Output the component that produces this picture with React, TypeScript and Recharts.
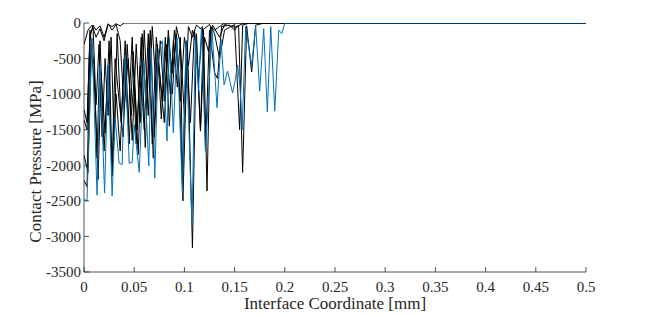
import { LineChart, Line, XAxis, YAxis } from 'recharts';

document.body.style.margin = '0';

type Pt = [number, number];

const xTicks = [0, 0.05, 0.1, 0.15, 0.2, 0.25, 0.3, 0.35, 0.4, 0.45, 0.5];
const yTicks = [-3500, -3000, -2500, -2000, -1500, -1000, -500, 0];

// contact pressure traces (x in mm, p in MPa)
const blueTrace: Pt[] = [
  [0, -2480], [0.003, -2500], [0.008, -210], [0.013, -2420], [0.016, -590], [0.0205, -2390],
  [0.024, -590], [0.028, -2430], [0.031, -1335], [0.035, -1970], [0.038, -1990], [0.041, -450],
  [0.045, -1970], [0.048, -1960], [0.05, -1430], [0.055, -2100], [0.0595, -530], [0.0645, -2010],
  [0.067, -350], [0.0705, -2180], [0.074, -390], [0.078, -250], [0.0827, -1660], [0.085, -210],
  [0.089, -1545], [0.0926, -210], [0.098, -2400], [0.1016, -250], [0.1076, -2840], [0.111, -170],
  [0.114, -950], [0.117, -60], [0.121, -1800], [0.1275, -100], [0.1325, -1190], [0.1365, -230],
  [0.1395, -870], [0.143, -675], [0.148, -985], [0.15, -850], [0.153, -590], [0.1555, -900],
  [0.1575, -1500], [0.161, -50], [0.167, -600], [0.171, -40], [0.175, -955], [0.179, -80],
  [0.1826, -1250], [0.186, -50], [0.19, -1240], [0.194, -100], [0.197, -150], [0.2, 0], [0.5, 0],
];

const blackA: Pt[] = [
  [0, -1220], [0.003, -1400], [0.006, -150], [0.009, -60], [0.012, -1150], [0.015, -300],
  [0.018, -1600], [0.021, -500], [0.024, -1300], [0.027, -200], [0.03, -1650], [0.033, -150],
  [0.037, -1400], [0.041, -250], [0.045, -1700], [0.049, -400], [0.053, -1500], [0.057, -200],
  [0.061, -1750], [0.065, -350], [0.069, -1900], [0.073, -300], [0.077, -1350], [0.081, -200],
  [0.085, -1450], [0.089, -250], [0.093, -900], [0.096, -200], [0.0985, -2500], [0.103, -300],
  [0.108, -3160], [0.112, -150], [0.116, -1500], [0.119, -100], [0.1225, -2360], [0.126, -50],
  [0.13, -100], [0.135, -50], [0.14, 0], [0.5, 0],
];

const blackB: Pt[] = [
  [0, -1360], [0.003, -1500], [0.006, -100], [0.01, -600], [0.013, -1900], [0.016, -250],
  [0.02, -1800], [0.024, -600], [0.028, -2000], [0.031, -500], [0.035, -1100], [0.039, -1600],
  [0.043, -300], [0.047, -1300], [0.05, -800], [0.054, -1850], [0.058, -150], [0.062, -1200],
  [0.066, -100], [0.07, -1600], [0.074, -500], [0.078, -1100], [0.082, -300], [0.086, -1000],
  [0.09, -100], [0.095, -900], [0.098, -2300], [0.102, -250], [0.106, -1400], [0.11, -100],
  [0.114, -800], [0.118, -50], [0.121, -1800], [0.125, -100], [0.13, -700], [0.133, -780],
  [0.137, -50], [0.145, -30], [0.15, -100], [0.154, -30], [0.158, -2100], [0.162, -40],
  [0.167, -690], [0.171, -30], [0.18, 0], [0.5, 0],
];

const blackC: Pt[] = [
  [0, -1855], [0.004, -2100], [0.007, -300], [0.011, -1000], [0.014, -2200], [0.017, -700],
  [0.021, -1550], [0.025, -250], [0.028, -2150], [0.032, -1000], [0.036, -1800], [0.04, -500],
  [0.044, -1400], [0.048, -200], [0.052, -1700], [0.056, -600], [0.06, -1500], [0.064, -150],
  [0.068, -1700], [0.072, -200], [0.076, -800], [0.08, -1400], [0.084, -200], [0.088, -700],
  [0.092, -150], [0.096, -1100], [0.1, -200], [0.104, -600], [0.108, -100], [0.112, -300],
  [0.116, -1520], [0.12, -200], [0.124, -400], [0.128, -30], [0.135, -200], [0.14, -20],
  [0.15, -60], [0.16, 0], [0.5, 0],
];

const blackD: Pt[] = [
  [0, -2210], [0.003, -2300], [0.006, -200], [0.009, -30], [0.012, -100], [0.016, -40],
  [0.02, -200], [0.024, -10], [0.028, -100], [0.032, -20], [0.036, -250], [0.04, -1200],
  [0.044, -500], [0.048, -1650], [0.052, -300], [0.056, -1400], [0.06, -100], [0.064, -1300],
  [0.068, -50], [0.072, -1000], [0.076, -250], [0.08, -1100], [0.084, -100], [0.088, -1000],
  [0.092, -50], [0.096, -300], [0.1, -1300], [0.104, -50], [0.108, -200], [0.112, -30],
  [0.118, -100], [0.125, -20], [0.13, -150], [0.135, -500], [0.14, -100], [0.145, -60],
  [0.15, -20], [0.155, -1500], [0.158, -30], [0.165, 0], [0.5, 0],
];

const blackE: Pt[] = [
  [0, -300], [0.004, -100], [0.008, -30], [0.012, -200], [0.016, -80], [0.02, -250],
  [0.024, -20], [0.028, -50], [0.032, -10], [0.036, -40], [0.04, 0], [0.5, 0],
];

const blackTraces = [blackA, blackB, blackC, blackD, blackE];

const toRows = (pts: Pt[]) => pts.map(([x, y]) => ({ x, y }));

const font = "'Liberation Serif', 'Times New Roman', 'DejaVu Serif', serif";
const axisColor = '#262626';
const blue = '#0072BD';

const XTick = (props: any) => {
  const { x, y, payload } = props;
  return (
    <g>
      <line x1={x} x2={x} y1={y} y2={y - 5} stroke={axisColor} strokeWidth={0.8} />
      <text x={x} y={y + 20} textAnchor="middle" style={{ fontFamily: font, fontSize: 15 }} fill={axisColor}>
        {String(payload.value)}
      </text>
    </g>
  );
};

const YTick = (props: any) => {
  const { x, y, payload } = props;
  return (
    <g>
      <line x1={x} x2={x + 5} y1={y} y2={y} stroke={axisColor} strokeWidth={0.8} />
      <text x={x - 3} y={y} dy="0.35em" textAnchor="end" style={{ fontFamily: font, fontSize: 15 }} fill={axisColor}>
        {String(payload.value)}
      </text>
    </g>
  );
};

const YLabel = (props: any) => {
  const vb = props.viewBox;
  const cx = vb.x + 35;
  const cy = vb.y + vb.height / 2 + 14;
  return (
    <text
      x={cx}
      y={cy}
      dy="0.35em"
      textAnchor="middle"
      transform={`rotate(-90, ${cx}, ${cy})`}
      style={{ fontFamily: font, fontSize: 17 }}
      fill={axisColor}
    >
      Contact Pressure [MPa]
    </text>
  );
};

const XLabel = (props: any) => {
  const vb = props.viewBox;
  const cx = vb.x + vb.width / 2;
  return (
    <text x={cx} y={vb.y + 37} textAnchor="middle" style={{ fontFamily: font, fontSize: 17 }} fill={axisColor}>
      Interface Coordinate [mm]
    </text>
  );
};

export default function App() {
  return (
    <div style={{ fontFamily: font }}>
      <LineChart width={648} height={316} margin={{ top: 23, right: 62, bottom: 0, left: 0 }}>
        <XAxis
          type="number"
          dataKey="x"
          domain={[0, 0.5]}
          ticks={xTicks}
          allowDataOverflow
          height={44}
          tickLine={false}
          tickSize={0}
          tickMargin={0}
          tick={XTick}
          axisLine={{ stroke: axisColor, strokeWidth: 0.8 }}
          label={XLabel}
        />
        <YAxis
          type="number"
          dataKey="y"
          domain={[-3500, 0]}
          ticks={yTicks}
          allowDataOverflow
          width={84}
          tickLine={false}
          tickSize={0}
          tickMargin={0}
          tick={YTick}
          axisLine={{ stroke: axisColor, strokeWidth: 0.8 }}
          label={YLabel}
        />
        {blackTraces.map((pts, i) => (
          <Line
            key={i}
            data={toRows(pts)}
            dataKey="y"
            type="linear"
            stroke="#000000"
            strokeWidth={1}
            dot={false}
            activeDot={false}
            isAnimationActive={false}
          />
        ))}
        <Line
          data={toRows(blueTrace)}
          dataKey="y"
          type="linear"
          stroke={blue}
          strokeWidth={1}
          dot={false}
          activeDot={false}
          isAnimationActive={false}
        />
      </LineChart>
    </div>
  );
}
